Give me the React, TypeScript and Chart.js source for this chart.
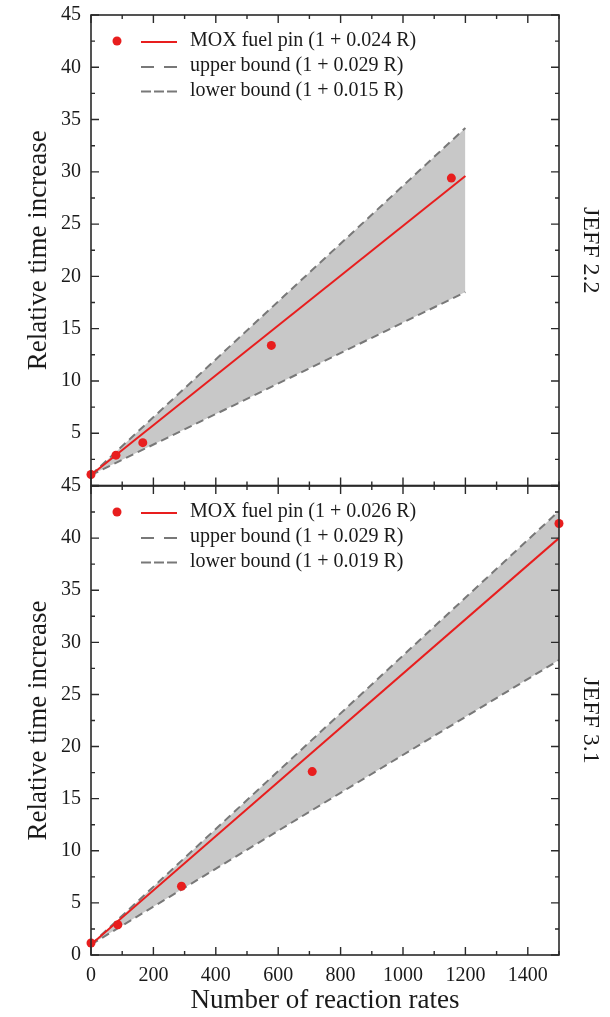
import React, { useEffect, useRef } from 'react';
import { Chart, registerables } from 'chart.js';

Chart.register(...registerables);

// ---------- data ----------
const xTickValues = [0, 200, 400, 600, 800, 1000, 1200, 1400];
const yTickValues = [0, 5, 10, 15, 20, 25, 30, 35, 40, 45];

// JEFF 2.2 panel
const jef22Label = 'JEFF 2.2';
const jef22PointX = [0, 80, 166, 578, 1155];
const jef22PointY = [1.05, 2.9, 4.1, 13.4, 29.4];
const jef22LineX = [0, 1200];
const jef22Mox = [1, 29.6];
const jef22Upper = [1, 34.2];
const jef22Lower = [1, 18.5];
const jef22Legend = ['MOX fuel pin (1 + 0.024 R)', 'upper bound (1 + 0.029 R)', 'lower bound (1 + 0.015 R)'];

// JEFF 3.1 panel
const jef31Label = 'JEFF 3.1';
const jef31PointX = [0, 86, 290, 709, 1500];
const jef31PointY = [1.15, 2.9, 6.6, 17.6, 41.4];
const jef31LineX = [0, 1500];
const jef31Mox = [1, 40.0];
const jef31Upper = [1, 42.6];
const jef31Lower = [1, 28.3];
const jef31Legend = ['MOX fuel pin (1 + 0.026 R)', 'upper bound (1 + 0.029 R)', 'lower bound (1 + 0.019 R)'];

// ---------- styling ----------
const RED = 'rgb(232,30,30)';
const GRAY = 'rgb(120,120,120)';
const FILL = 'rgb(200,200,200)';
const SERIF = '"Liberation Serif", "Times New Roman", serif';
const AXIS = '#2a2a2a';
const TEXT = '#1a1a1a';

type PanelSpec = {
  label: string;
  px: number[];
  py: number[];
  lx: number[];
  mox: number[];
  upper: number[];
  lower: number[];
  legend: string[];
  showXAxis: boolean;
  hideZero: boolean;
  paddingTop: number;
  paddingBottom: number;
};

function pts(xs: number[], ys: number[]) {
  return xs.map((x, i) => ({ x, y: ys[i] }));
}

function makePlugin(spec: PanelSpec) {
  return {
    id: 'panelDecor',
    afterDatasetsDraw(chart: any) {
      const { ctx, chartArea } = chart;
      const { left, right, top, bottom } = chartArea;
      const xs = chart.scales.x;
      const ys = chart.scales.y;
      ctx.save();
      // frame
      ctx.strokeStyle = AXIS;
      ctx.lineWidth = 1.6;
      ctx.setLineDash([]);
      ctx.strokeRect(left, top, right - left, bottom - top);
      // x ticks (inward, top and bottom)
      ctx.lineWidth = 1.4;
      for (let v = 0; v <= 1500; v += 100) {
        const px = xs.getPixelForValue(v);
        const len = v % 200 === 0 ? 8 : 4;
        ctx.beginPath();
        ctx.moveTo(px, bottom);
        ctx.lineTo(px, bottom - len);
        ctx.moveTo(px, top);
        ctx.lineTo(px, top + len);
        ctx.stroke();
      }
      // y ticks (inward, left and right)
      for (let v = 0; v <= 45; v += 2.5) {
        const py = ys.getPixelForValue(v);
        const len = v % 5 === 0 ? 8 : 4;
        ctx.beginPath();
        ctx.moveTo(left, py);
        ctx.lineTo(left + len, py);
        ctx.moveTo(right, py);
        ctx.lineTo(right - len, py);
        ctx.stroke();
      }
      // side label
      ctx.save();
      ctx.fillStyle = TEXT;
      ctx.font = `24px ${SERIF}`;
      ctx.textAlign = 'center';
      ctx.textBaseline = 'middle';
      ctx.translate(right + 31, (top + bottom) / 2);
      ctx.rotate(Math.PI / 2);
      ctx.fillText(spec.label, 0, 0);
      ctx.restore();
      // legend
      const rows = [26, 51, 75.5];
      const symL = left + 50;
      const symR = left + 86;
      const textX = left + 99;
      ctx.font = `20px ${SERIF}`;
      ctx.textAlign = 'left';
      ctx.textBaseline = 'middle';
      spec.legend.forEach((t, i) => {
        const y = top + rows[i];
        if (i === 0) {
          ctx.fillStyle = RED;
          ctx.beginPath();
          ctx.arc(left + 26, y, 4.5, 0, Math.PI * 2);
          ctx.fill();
          ctx.strokeStyle = RED;
          ctx.lineWidth = 2;
          ctx.setLineDash([]);
        } else if (i === 1) {
          ctx.strokeStyle = GRAY;
          ctx.lineWidth = 2;
          ctx.setLineDash([13, 10]);
        } else {
          ctx.strokeStyle = GRAY;
          ctx.lineWidth = 2;
          ctx.setLineDash([10, 3]);
        }
        ctx.beginPath();
        ctx.moveTo(symL, y + 1);
        ctx.lineTo(symR, y + 1);
        ctx.stroke();
        ctx.setLineDash([]);
        ctx.fillStyle = TEXT;
        ctx.fillText(t, textX, y);
      });
      ctx.restore();
    },
  };
}

function makeConfig(spec: PanelSpec): any {
  return {
    type: 'line',
    data: {
      datasets: [
        {
          label: 'points',
          data: pts(spec.px, spec.py),
          showLine: false,
          pointRadius: 4.5,
          pointBackgroundColor: RED,
          pointBorderColor: RED,
          pointBorderWidth: 0,
          clip: false,
        },
        {
          label: 'MOX',
          data: pts(spec.lx, spec.mox),
          borderColor: RED,
          borderWidth: 2,
          pointRadius: 0,
          fill: false,
          tension: 0,
        },
        {
          label: 'upper',
          data: pts(spec.lx, spec.upper),
          borderColor: GRAY,
          borderWidth: 2,
          borderDash: [8, 5],
          pointRadius: 0,
          backgroundColor: FILL,
          fill: '+1',
          tension: 0,
        },
        {
          label: 'lower',
          data: pts(spec.lx, spec.lower),
          borderColor: GRAY,
          borderWidth: 2,
          borderDash: [8, 5],
          pointRadius: 0,
          fill: false,
          tension: 0,
        },
      ],
    },
    options: {
      responsive: false,
      animation: false,
      events: [],
      layout: { padding: { left: 0, right: 51, top: spec.paddingTop, bottom: spec.paddingBottom } },
      plugins: {
        legend: { display: false },
        tooltip: { enabled: false },
        filler: { drawTime: 'beforeDatasetsDraw' },
      },
      scales: {
        x: {
          type: 'linear',
          min: 0,
          max: 1500,
          display: spec.showXAxis,
          grid: { display: false, drawTicks: false },
          border: { display: false },
          afterBuildTicks: (scale: any) => {
            scale.ticks = xTickValues.map((v) => ({ value: v }));
          },
          afterFit: (scale: any) => {
            if (spec.showXAxis) scale.height = 62;
          },
          ticks: {
            padding: 9,
            color: TEXT,
            font: { family: SERIF, size: 20 },
            maxRotation: 0,
            callback: (v: any) => String(v),
          },
          title: {
            display: true,
            text: 'Number of reaction rates',
            color: TEXT,
            font: { family: SERIF, size: 27 },
            padding: { top: 0, bottom: 0 },
          },
        },
        y: {
          type: 'linear',
          min: 0,
          max: 45,
          grid: { display: false, drawTicks: false },
          border: { display: false },
          afterBuildTicks: (scale: any) => {
            scale.ticks = yTickValues.map((v) => ({ value: v }));
          },
          afterFit: (scale: any) => {
            scale.width = 91;
          },
          ticks: {
            padding: 10,
            color: TEXT,
            font: { family: SERIF, size: 20 },
            callback: (v: any) => (spec.hideZero && v === 0 ? '' : String(v)),
          },
          title: {
            display: true,
            text: 'Relative time increase',
            color: TEXT,
            font: { family: SERIF, size: 27 },
            padding: { top: 23, bottom: 0 },
          },
        },
      },
    },
    plugins: [makePlugin(spec)],
  };
}

function Panel({ spec, top, height }: { spec: PanelSpec; top: number; height: number }) {
  const ref = useRef<HTMLCanvasElement | null>(null);
  useEffect(() => {
    if (!ref.current) return;
    const chart = new Chart(ref.current, makeConfig(spec));
    return () => chart.destroy();
  }, [spec]);
  return (
    <canvas
      ref={ref}
      width={610}
      height={height}
      style={{ position: 'absolute', left: 0, top, width: 610, height }}
    />
  );
}

// Top panel: canvas from y=-15 to 515; chart area 30..500.5 in canvas => 15..485.5 on page
const topSpec: PanelSpec = {
  label: jef22Label,
  px: jef22PointX,
  py: jef22PointY,
  lx: jef22LineX,
  mox: jef22Mox,
  upper: jef22Upper,
  lower: jef22Lower,
  legend: jef22Legend,
  showXAxis: false,
  hideZero: true,
  paddingTop: 30,
  paddingBottom: 29.5,
};

// Bottom panel: canvas from y=456; chart area 30..499 in canvas => 486..955 on page
const bottomSpec: PanelSpec = {
  label: jef31Label,
  px: jef31PointX,
  py: jef31PointY,
  lx: jef31LineX,
  mox: jef31Mox,
  upper: jef31Upper,
  lower: jef31Lower,
  legend: jef31Legend,
  showXAxis: true,
  hideZero: false,
  paddingTop: 30,
  paddingBottom: 0,
};

export default function App() {
  return (
    <div style={{ position: 'absolute', left: 0, top: 0, width: 610, height: 1017, background: '#fff', overflow: 'hidden' }}>
      <Panel spec={topSpec} top={-15} height={530} />
      <Panel spec={bottomSpec} top={456} height={561} />
    </div>
  );
}
